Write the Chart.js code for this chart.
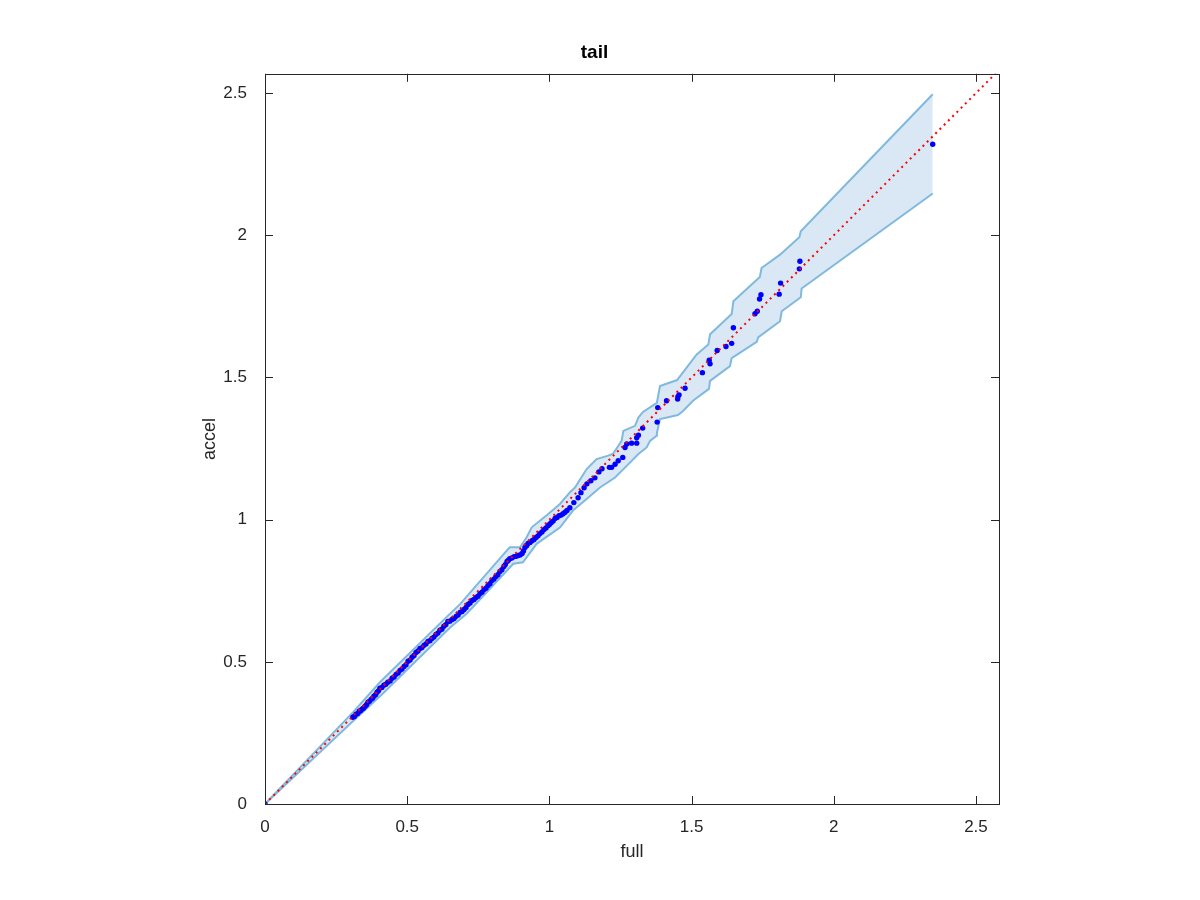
<!DOCTYPE html>
<html>
<head>
<meta charset="utf-8">
<script src="https://cdn.jsdelivr.net/npm/chart.js@4"></script>
<style>
  html, body { margin: 0; padding: 0; background: #fff; }
  #wrap { width: 1200px; height: 900px; }
</style>
</head>
<body>
<div id="wrap"><canvas id="c" width="1200" height="900"></canvas></div>
<script>
// quantile points: full (x) vs accel (y)
const fullVals = [0,
  0.309, 0.320, 0.331, 0.341, 0.352, 0.362, 0.373, 0.383, 0.394, 0.404,
  0.418, 0.432, 0.447, 0.461, 0.475, 0.489, 0.503, 0.517, 0.531, 0.545,
  0.559, 0.573, 0.587, 0.601, 0.615, 0.629, 0.643, 0.658, 0.672, 0.686,
  0.700, 0.714, 0.728, 0.742, 0.756, 0.770, 0.784, 0.798, 0.812, 0.826,
  0.840, 0.851, 0.861, 0.876, 0.890, 0.904, 0.914, 0.925, 0.939, 0.953,
  0.967, 0.981, 0.995, 1.006, 1.020, 1.034, 1.048, 1.062, 1.072, 1.086,
  1.101, 1.111, 1.122, 1.132, 1.146, 1.160, 1.174, 1.185,
  1.211, 1.219, 1.231, 1.242, 1.258, 1.266, 1.272, 1.289, 1.307, 1.307,
  1.313, 1.328, 1.379, 1.381, 1.412, 1.451, 1.452, 1.456, 1.477, 1.538,
  1.562, 1.565, 1.590, 1.621, 1.641, 1.647, 1.723, 1.731, 1.739, 1.744,
  1.808, 1.813, 1.879, 1.881, 2.348];
const accelVals = [0,
  0.305, 0.316, 0.326, 0.333, 0.344, 0.358, 0.368, 0.379, 0.393, 0.407,
  0.418, 0.428, 0.442, 0.456, 0.470, 0.484, 0.502, 0.516, 0.533, 0.547,
  0.558, 0.572, 0.582, 0.596, 0.611, 0.625, 0.642, 0.649, 0.660, 0.674,
  0.684, 0.702, 0.716, 0.726, 0.740, 0.754, 0.768, 0.786, 0.800, 0.818,
  0.835, 0.853, 0.863, 0.870, 0.874, 0.881, 0.902, 0.916, 0.926, 0.937,
  0.951, 0.965, 0.979, 0.989, 1.004, 1.014, 1.021, 1.032, 1.042, 1.060,
  1.077, 1.095, 1.112, 1.126, 1.137, 1.147, 1.168, 1.179,
  1.184, 1.184, 1.195, 1.207, 1.219, 1.254, 1.266, 1.269, 1.269, 1.288,
  1.297, 1.322, 1.343, 1.394, 1.418, 1.424, 1.432, 1.439, 1.462, 1.517,
  1.561, 1.548, 1.595, 1.609, 1.620, 1.675, 1.724, 1.733, 1.776, 1.791,
  1.793, 1.832, 1.882, 1.909, 2.320];

// extra points inside the dense run (0.31 - 1.06)
const fullDense = [0.314, 0.326, 0.336, 0.346, 0.357, 0.367, 0.378, 0.389, 0.399, 0.411,
  0.425, 0.440, 0.454, 0.468, 0.482, 0.496, 0.510, 0.524, 0.538, 0.552,
  0.566, 0.580, 0.594, 0.608, 0.622, 0.636, 0.650, 0.665, 0.679, 0.693,
  0.707, 0.721, 0.735, 0.749, 0.763, 0.777, 0.791, 0.805, 0.819, 0.833,
  0.845, 0.856, 0.868, 0.883, 0.897, 0.909, 0.920, 0.932, 0.946, 0.960,
  0.974, 0.988, 1.000, 1.013, 1.027, 1.041, 1.055];
const accelDense = [0.308, 0.318, 0.328, 0.337, 0.349, 0.361, 0.372, 0.384, 0.398, 0.410,
  0.421, 0.433, 0.447, 0.461, 0.475, 0.490, 0.506, 0.522, 0.538, 0.550,
  0.563, 0.574, 0.587, 0.601, 0.615, 0.631, 0.643, 0.652, 0.665, 0.677,
  0.691, 0.707, 0.719, 0.731, 0.745, 0.759, 0.775, 0.791, 0.806, 0.824,
  0.842, 0.857, 0.865, 0.871, 0.876, 0.890, 0.908, 0.920, 0.930, 0.943,
  0.957, 0.971, 0.983, 0.995, 1.008, 1.016, 1.026];

// confidence band edges
const upperX = [0, 0.309, 0.404, 0.639, 0.686, 0.850, 0.861, 0.897, 0.920, 0.938,
  0.996, 1.037, 1.072, 1.090, 1.131, 1.166, 1.207, 1.224, 1.254, 1.260,
  1.301, 1.313, 1.329, 1.378, 1.389, 1.449, 1.518, 1.559, 1.565, 1.641,
  1.647, 1.740, 1.746, 1.811, 1.879, 1.884, 2.348];
const upperY = [0, 0.322, 0.428, 0.658, 0.703, 0.891, 0.903, 0.903, 0.938, 0.973,
  1.020, 1.055, 1.096, 1.113, 1.178, 1.213, 1.225, 1.232, 1.277, 1.312,
  1.330, 1.359, 1.379, 1.411, 1.470, 1.491, 1.581, 1.616, 1.652, 1.723,
  1.768, 1.853, 1.885, 1.932, 1.993, 2.014, 2.496];
const lowerX = [0, 0.309, 0.410, 0.650, 0.709, 0.873, 0.907, 0.955, 1.037, 1.083,
  1.131, 1.178, 1.231, 1.272, 1.313, 1.342, 1.354, 1.377, 1.378, 1.389,
  1.452, 1.470, 1.505, 1.561, 1.565, 1.635, 1.641, 1.729, 1.735, 1.811,
  1.817, 1.884, 1.887, 2.348];
const lowerY = [0, 0.291, 0.384, 0.620, 0.669, 0.845, 0.850, 0.915, 0.972, 1.032,
  1.073, 1.113, 1.148, 1.189, 1.231, 1.254, 1.277, 1.295, 1.305, 1.354,
  1.368, 1.382, 1.418, 1.460, 1.488, 1.540, 1.568, 1.625, 1.642, 1.698,
  1.733, 1.782, 1.813, 2.147];

const refLine = [0, 2.6];
const tickVals = [0, 0.5, 1, 1.5, 2, 2.5];
const tickLabels = ['0', '0.5', '1', '1.5', '2', '2.5'];
const xMax = 2.581;
const yMax = 2.568;

const textColor = '#262626';
const bandEdge = '#80b9de';
const bandFill = '#d9e8f4';
const fontFamily = '"Liberation Sans", Arial, Helvetica, sans-serif';

const pairs = (xs, ys) => xs.map((x, i) => ({ x: x, y: ys[i] }));
const tickText = v => {
  const i = tickVals.indexOf(v);
  return i >= 0 ? tickLabels[i] : '';
};

// matlab style box with inward ticks on all four sides
const boxPlugin = {
  id: 'box',
  afterDatasetsDraw(chart) {
    const { ctx, chartArea: a, scales } = chart;
    const len = 8;
    ctx.save();
    ctx.strokeStyle = textColor;
    ctx.lineWidth = 1;
    ctx.beginPath();
    tickVals.forEach(v => {
      const px = Math.round(scales.x.getPixelForValue(v)) + 0.5;
      const py = Math.round(scales.y.getPixelForValue(v)) + 0.5;
      ctx.moveTo(px, a.bottom); ctx.lineTo(px, a.bottom - len);
      ctx.moveTo(px, a.top); ctx.lineTo(px, a.top + len);
      ctx.moveTo(a.left, py); ctx.lineTo(a.left + len, py);
      ctx.moveTo(a.right, py); ctx.lineTo(a.right - len, py);
    });
    ctx.stroke();
    ctx.strokeRect(Math.round(a.left) + 0.5, Math.round(a.top) + 0.5,
      Math.round(a.right - a.left), Math.round(a.bottom - a.top));
    ctx.restore();
  }
};

new Chart(document.getElementById('c'), {
  type: 'scatter',
  data: {
    datasets: [
      {
        label: 'y = x',
        data: pairs(refLine, refLine),
        showLine: true,
        borderColor: '#ff0000',
        borderWidth: 2,
        borderDash: [2, 4],
        pointRadius: 0,
        fill: false
      },
      {
        label: 'quantiles',
        data: pairs(fullVals, accelVals).concat(pairs(fullDense, accelDense)),
        pointRadius: 2.7,
        pointBackgroundColor: '#0000ff',
        pointBorderWidth: 0,
        showLine: false
      },
      {
        label: 'lower',
        data: pairs(lowerX, lowerY),
        showLine: true,
        borderColor: bandEdge,
        borderWidth: 2,
        pointRadius: 0,
        fill: false
      },
      {
        label: 'upper',
        data: pairs(upperX, upperY),
        showLine: true,
        borderColor: bandEdge,
        borderWidth: 2,
        pointRadius: 0,
        fill: '-1',
        backgroundColor: bandFill
      }
    ]
  },
  options: {
    responsive: false,
    animation: false,
    layout: { padding: { left: 190, right: 201, top: 5, bottom: 36 } },
    plugins: {
      legend: { display: false },
      tooltip: { enabled: false },
      title: {
        display: true,
        text: 'tail',
        color: '#000',
        font: { family: fontFamily, size: 19, weight: 'bold' },
        padding: { top: 36, bottom: 10 }
      }
    },
    scales: {
      x: {
        type: 'linear',
        min: 0,
        max: xMax,
        afterFit: s => { s.height = 60; },
        afterBuildTicks: s => { s.ticks = tickVals.map(v => ({ value: v })); },
        grid: { display: false, drawTicks: false },
        border: { display: false },
        ticks: { color: textColor, padding: 13, font: { family: fontFamily, size: 17 }, callback: tickText },
        title: {
          display: true, text: 'full', color: textColor,
          font: { family: fontFamily, size: 18 },
          padding: { top: 0, bottom: 1 }
        }
      },
      y: {
        type: 'linear',
        min: 0,
        max: yMax,
        afterFit: s => { s.width = 75; },
        afterBuildTicks: s => { s.ticks = tickVals.map(v => ({ value: v })); },
        grid: { display: false, drawTicks: false },
        border: { display: false },
        ticks: { color: textColor, padding: 18, font: { family: fontFamily, size: 17 }, callback: tickText },
        title: {
          display: true, text: 'accel', color: textColor,
          font: { family: fontFamily, size: 18 },
          padding: { top: 9, bottom: 0 }
        }
      }
    }
  },
  plugins: [boxPlugin]
});
</script>
</body>
</html>
